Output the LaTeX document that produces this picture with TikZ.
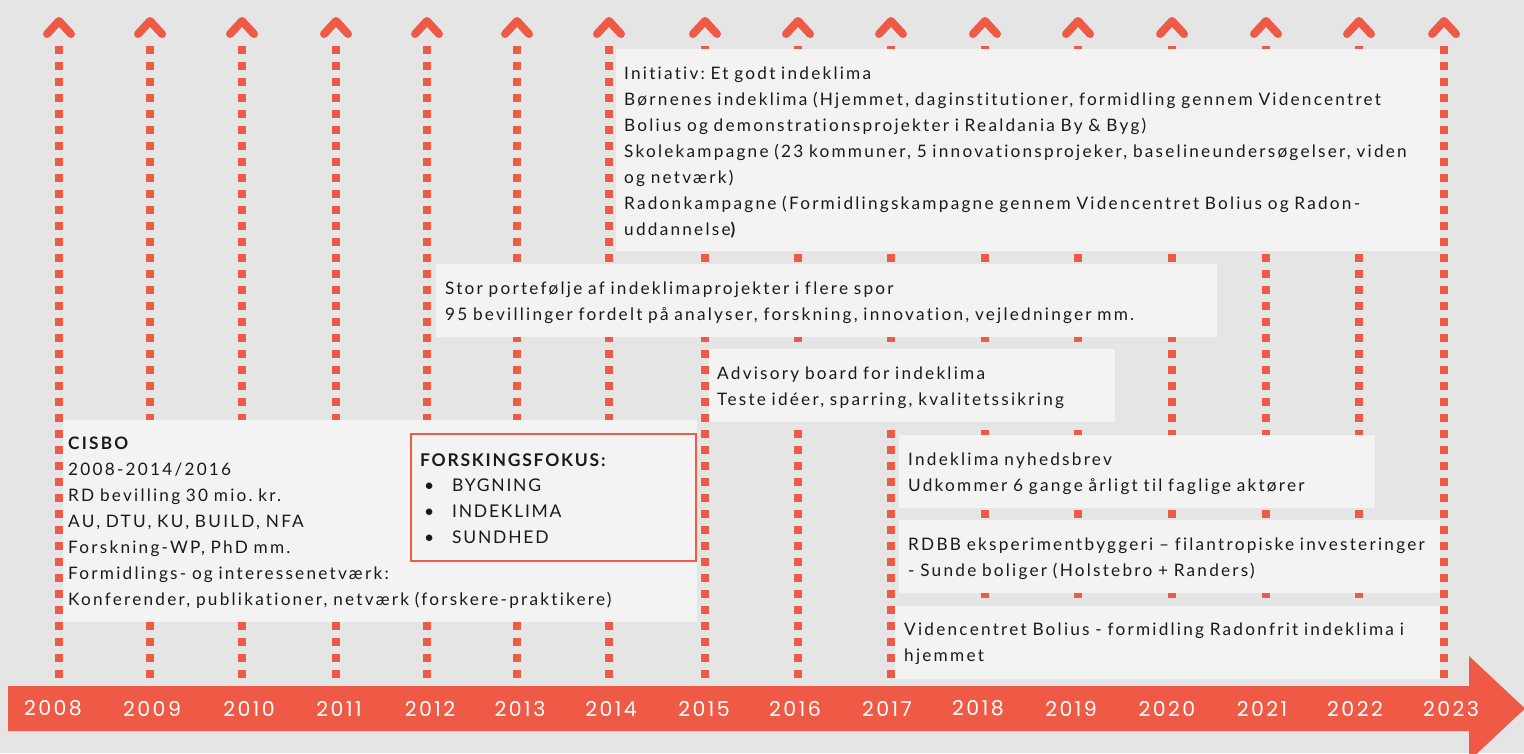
\documentclass[tikz,border=0pt]{standalone}
\usepackage{fontspec}
\setmainfont{Lato}[LetterSpace=13, WordSpace=1.5, Ligatures=NoCommon]
\newfontfamily\focusfont{Lato}[LetterSpace=10, Ligatures=NoCommon]
\newfontfamily\yearfont{Poppins}[LetterSpace=12]
\usetikzlibrary{calc}
\frenchspacing

\definecolor{canvas}{HTML}{E5E5E5}
\definecolor{panel}{HTML}{F3F3F3}
\definecolor{accent}{HTML}{EF5A46}
\definecolor{ink}{HTML}{1A1A1A}

\tikzset{
  stem/.style={draw=accent, line width=8pt, dash pattern=on 8pt off 8pt, line cap=butt},
  chev/.style={draw=accent, line width=8pt, line cap=round, line join=round},
  panelbox/.style={fill=panel, draw=none, anchor=north west, inner sep=0pt},
  focusbox/.style={fill=panel, draw=accent, line width=2pt, anchor=north west, inner sep=0pt},
  body/.style={anchor=base west, inner sep=0pt, text=ink, align=left, text width=880pt,
    font=\fontsize{17.2}{26}\selectfont},
  focusbody/.style={body, font=\focusfont\fontsize{17.5}{25.7}\selectfont},
  yearlabel/.style={text=white, inner sep=0pt, anchor=center, font=\yearfont\fontsize{20.5}{24}\selectfont},
}

\begin{document}
\begin{tikzpicture}[x=1pt, y=-1pt]
  % canvas
  \useasboundingbox (0,0) rectangle (1524,753);
  \fill[canvas] (0,0) rectangle (1524,753);

  % one dotted stem with an open chevron head per year
  \foreach \yr/\sx in {2008/59, 2009/150, 2010/242, 2011/336, 2012/427, 2013/517,
      2014/609, 2015/705, 2016/798, 2017/891, 2018/985, 2019/1078, 2020/1172,
      2021/1266, 2022/1359, 2023/1444} {
    \coordinate (head\yr) at (\sx,46);
    \coordinate (foot\yr) at (\sx,678);
    \coordinate (tip\yr) at (\sx,21);
    \draw[stem] (head\yr) -- (foot\yr);
    \draw[chev] ($(tip\yr)+(-12,13)$) -- (tip\yr) -- ($(tip\yr)+(12,13)$);
  }

  % panels
  \node[panelbox, minimum width=824pt, minimum height=202pt] (initiativ) at (616,49) {};
  \node[panelbox, minimum width=781pt, minimum height=73pt] (portfolio) at (436,264) {};
  \node[panelbox, minimum width=406pt, minimum height=73pt] (advisory) at (709,349) {};
  \node[panelbox, minimum width=634pt, minimum height=202pt] (cisbo) at (63,420) {};
  \node[focusbox, minimum width=285pt, minimum height=127pt] (focus) at (410,433) {};
  \node[panelbox, minimum width=476pt, minimum height=73pt] (newsletter) at (899,435) {};
  \node[panelbox, minimum width=541pt, minimum height=73pt] (rdbb) at (899,520) {};
  \node[panelbox, minimum width=545pt, minimum height=73pt] (bolius) at (895,606) {};

  % panel texts
  \node[body] (initiativtext) at (624,79) {Initiativ: Et godt indeklima\\
    Børnenes indeklima (Hjemmet, daginstitutioner, formidling gennem Videncentret\\
    Bolius og demonstrationsprojekter i Realdania By \& Byg)\\
    Skolekampagne (23 kommuner, 5 innovationsprojeker, baselineundersøgelser, viden\\
    og netværk)\\
    Radonkampagne (Formidlingskampagne gennem Videncentret Bolius og Radon-\\
    uddannelse{\bfseries )}};
  \node[body] (portfoliotext) at (445,294) {Stor portefølje af indeklimaprojekter i flere spor\\
    95 bevillinger fordelt på analyser, forskning, innovation, vejledninger mm.};
  \node[body] (advisorytext) at (717,379) {Advisory board for indeklima\\
    Teste idéer, sparring, kvalitetssikring};
  \node[body] (cisbotext) at (68,449) {{\bfseries CISBO}\\
    2008-2014/2016\\
    RD bevilling 30 mio. kr.\\
    AU, DTU, KU, BUILD, NFA\\
    Forskning-WP, PhD mm.\\
    Formidlings- og interessenetværk:\\
    Konferender, publikationer, netværk (forskere-praktikere)};
  \node[focusbody] (focustext) at (420,466)
    {{\bfseries FORSKINGSFOKUS:}\\
    \makebox[32pt][l]{\hspace{4pt}•}BYGNING\\
    \makebox[32pt][l]{\hspace{4pt}•}INDEKLIMA\\
    \makebox[32pt][l]{\hspace{4pt}•}SUNDHED};
  \node[body] (newslettertext) at (908,465) {Indeklima nyhedsbrev\\
    Udkommer 6 gange årligt til faglige aktører};
  \node[body] (rdbbtext) at (908,550) {RDBB eksperimentbyggeri – filantropiske investeringer\\
    - Sunde boliger (Holstebro + Randers)};
  \node[body] (boliustext) at (904,635) {Videncentret Bolius - formidling Radonfrit indeklima i\\
    hjemmet};

  % timeline band
  \fill[accent] (8,686) -- (1469,686) -- (1469,656) -- (1525,708.5)
    -- (1469,761) -- (1469,731) -- (8,731) -- cycle;

  % year labels
  \foreach \yr/\lx in {2008/53, 2009/152, 2010/249, 2011/339, 2012/430, 2013/520,
      2014/611, 2015/704, 2016/795, 2017/887, 2018/978, 2019/1071, 2020/1167,
      2021/1262, 2022/1355, 2023/1451} {
    \node[yearlabel] (year\yr) at (\lx,708.5) {\yr};
  }
\end{tikzpicture}
\end{document}
